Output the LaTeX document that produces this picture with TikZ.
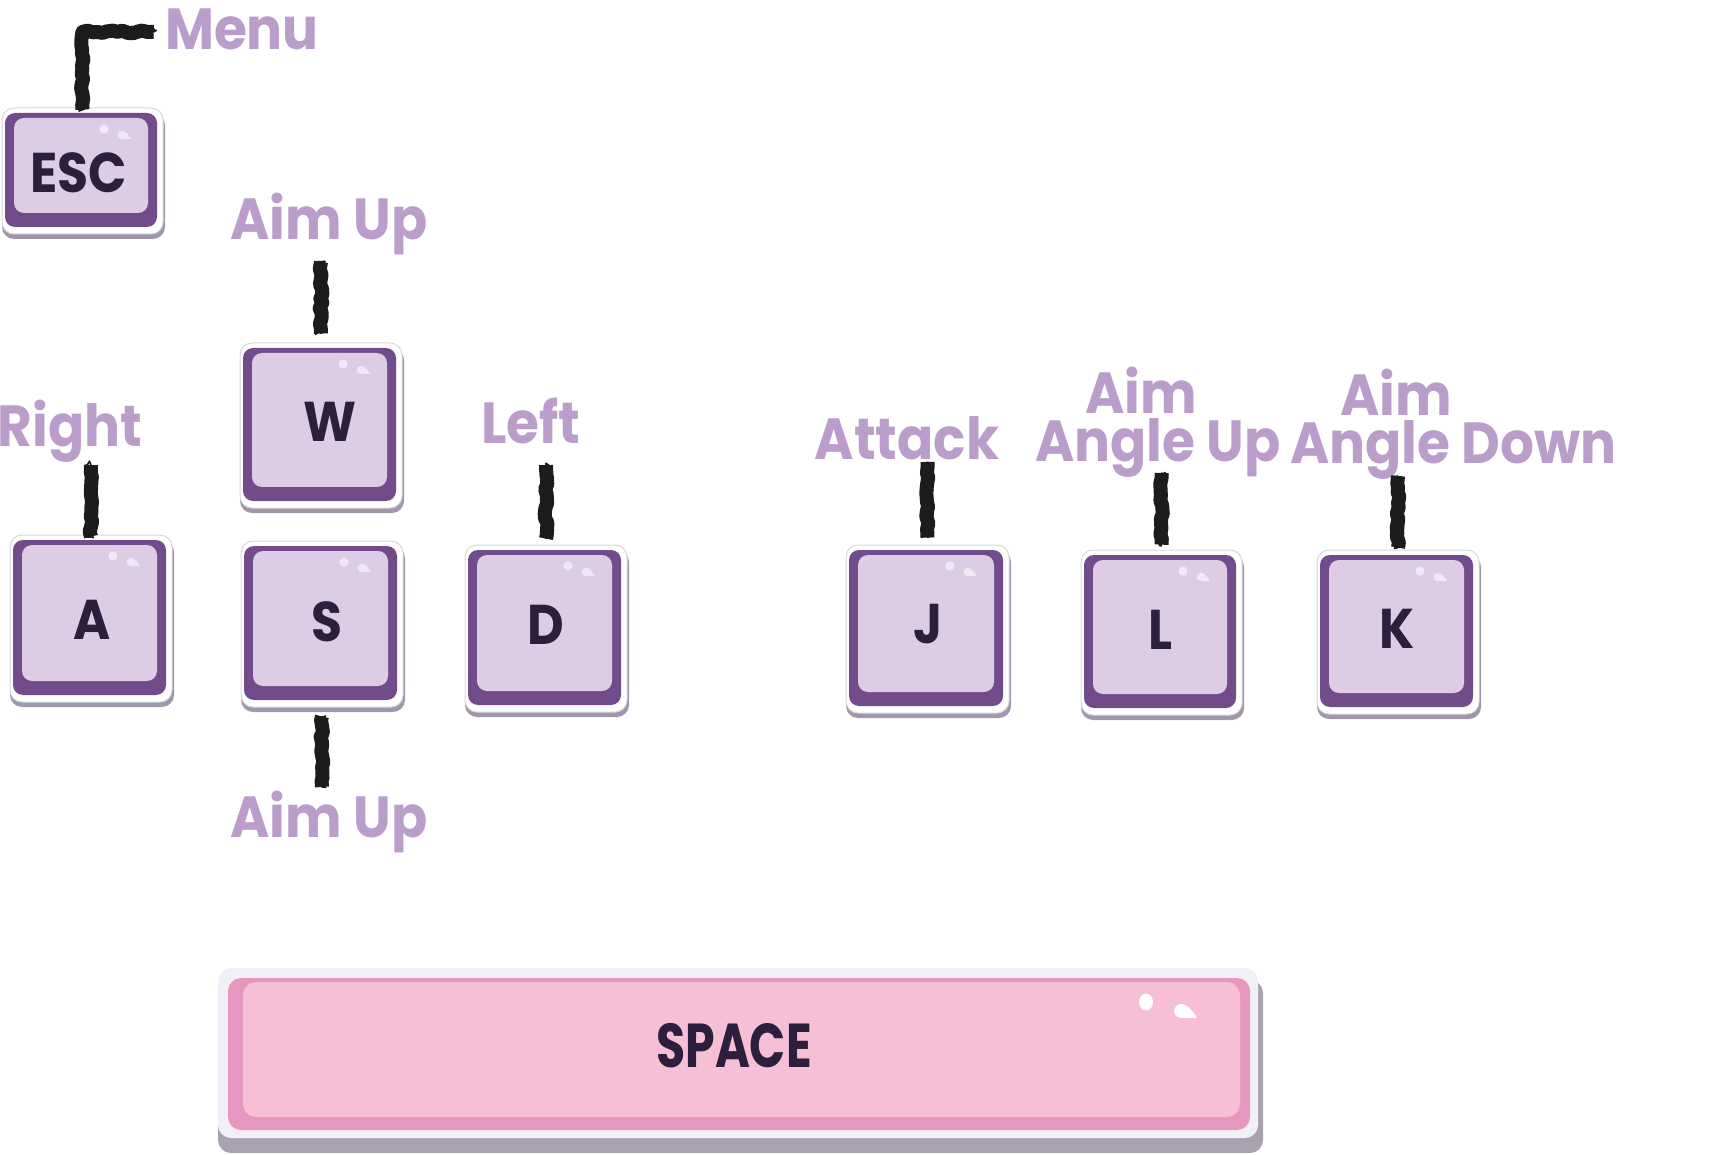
\documentclass[tikz,border=0pt]{standalone}
\usepackage{fontspec}
\setmainfont{Poppins}
\usetikzlibrary{fit,decorations.pathmorphing}
\definecolor{keypurple}{HTML}{724C8A}
\definecolor{keyface}{HTML}{DCCDE5}
\definecolor{keyshine}{HTML}{F0E9F5}
\definecolor{keyshadow}{HTML}{A098AA}
\definecolor{keyedge}{HTML}{DAD6E0}
\definecolor{keytextc}{HTML}{2B1F3C}
\definecolor{lblc}{HTML}{BB9DCB}
\definecolor{brushc}{HTML}{1C1C1C}
\definecolor{spouter}{HTML}{F2F0F6}
\definecolor{sppink}{HTML}{E597BF}
\definecolor{spinner}{HTML}{F6BFD5}
\definecolor{spshadow}{HTML}{A8A1AF}
\tikzset{
  keytxt/.style={font=\bfseries\fontsize{28}{28}\selectfont, text=keytextc, inner sep=0pt, xscale=0.9},
  lbl/.style={font=\bfseries\fontsize{29}{24}\selectfont, text=lblc, inner sep=0pt, anchor=base, xscale=0.92},
  brush/.style={draw=brushc, line width=7pt, line join=round, line cap=butt, decorate,
     decoration={random steps, segment length=2.5pt, amplitude=0.7pt}},
  brushhair/.style={draw=brushc, line width=0.8pt, line join=round, decorate,
     decoration={random steps, segment length=1pt, amplitude=2.8pt}}
}
% #1 name, #2 x0, #3 y0, #4 x1, #5 y1, #6 text, #7 text position
\newcommand{\KeyCap}[7]{%
  \fill[keyshadow, rounded corners=6pt] (#2-3,#3) rectangle (#4+8,#5+12);
  \filldraw[fill=white, draw=keyedge, line width=0.5pt, rounded corners=6pt] (#2-3,#3-5) rectangle (#4+6,#5+7);
  \fill[keypurple, rounded corners=5pt] (#2,#3) rectangle (#4,#5);
  \fill[keyface, rounded corners=5pt] (#2+9,#3+5) rectangle (#4-9,#5-14);
  \fill[keyshine] (#4-53,#3+16) circle (2.3pt);
  \fill[keyshine, shift={(#4-33,#3+22)}] (7,4) .. controls (3,-3) and (-2,-6) .. (-5,-3)
     .. controls (-8,0) and (-6,4) .. (-2,4) -- cycle;
  \node[fit={(#2-3,#3-5) (#4+6,#5+7)}, inner sep=0pt] (#1) {};
  \node[keytxt] (#1t) at (#7) {#6};
}
\begin{document}
\begin{tikzpicture}[x=0.5pt, y=-0.5pt]
\useasboundingbox (0,0) rectangle (1726,1155);
\pgfmathsetseed{7}
% keys
\KeyCap{esc}{5}{113}{157}{227}{ESC}{79,173}
\KeyCap{w}{243}{348}{396}{501}{W}{330,422}
\KeyCap{a}{13}{540}{166}{695}{A}{92,620}
\KeyCap{s}{244}{546}{397}{700}{S}{327,622}
\KeyCap{d}{468}{550}{621}{705}{D}{546,625}
\KeyCap{j}{849}{550}{1003}{706}{J}{928,624}
\KeyCap{l}{1084}{555}{1236}{708}{L}{1161,630}
\KeyCap{k}{1320}{555}{1473}{707}{K}{1397,629}
% space bar
\fill[spshadow, rounded corners=6.5pt] (218,980) rectangle (1263,1153);
\fill[spouter, rounded corners=6.5pt] (218,968) rectangle (1258,1138);
\fill[sppink, rounded corners=6.5pt] (228,978) rectangle (1250,1130);
\fill[spinner, rounded corners=6.5pt] (243,982) rectangle (1240,1117);
\fill[white] (1146,1002) ellipse [x radius=3.5pt, y radius=4.2pt];
\fill[white, shift={(1185,1011)}, scale=1.7] (7,4) .. controls (3,-3) and (-2,-6) .. (-5,-3)
     .. controls (-8,0) and (-6,4) .. (-2,4) -- cycle;
\node[fit={(218,968) (1258,1138)}, inner sep=0pt] (space) {};
\node[keytxt, font=\bfseries\fontsize{31}{31}\selectfont, xscale=0.85] (spacet) at (734,1046) {SPACE};
% labels
\node[lbl] (menu) at (242,50) {Menu};
\node[lbl] (aimup1) at (329,240) {Aim Up};
\node[lbl] (right) at (70,446) {Right};
\node[lbl] (left) at (531,444) {Left};
\node[lbl] (aimup2) at (329,837) {Aim Up};
\node[lbl] (attack) at (907,459) {Attack};
\node[lbl, align=left, anchor=south west] (angleup) at (1035,478) {\hspace*{27pt}Aim\\Angle Up};
\node[lbl, align=left, anchor=south west] (angledown) at (1290,480) {\hspace*{27pt}Aim\\Angle Down};
% connectors
\foreach \st in {brush, brushhair, brushhair}{
  \draw[\st] ([yshift=-1pt]esc.north) |- ([xshift=-5.5pt,yshift=-1pt]menu.west);
  \draw[\st] ([yshift=4.5pt]w.north) -- ([yshift=-11pt]w.north |- aimup1.base);
  \draw[\st] ([yshift=-1pt]a.north) -- ([yshift=-9.5pt]a.north |- right.base);
  \draw[\st] ([yshift=3pt]d.north) -- ([yshift=-10.5pt]d.north |- left.base);
  \draw[\st] ([yshift=3.5pt]j.north) -- ([yshift=-1.5pt]j.north |- attack.base);
  \draw[\st] ([yshift=2.5pt]l.north) -- ([yshift=2.5pt]l.north |- angleup.south);
  \draw[\st] ([yshift=1pt]k.north) -- ([yshift=2pt]k.north |- angledown.south);
  \draw[\st] ([yshift=-4.5pt]s.south) -- ([yshift=25pt]s.south |- aimup2.base);
}
\end{tikzpicture}
\end{document}
